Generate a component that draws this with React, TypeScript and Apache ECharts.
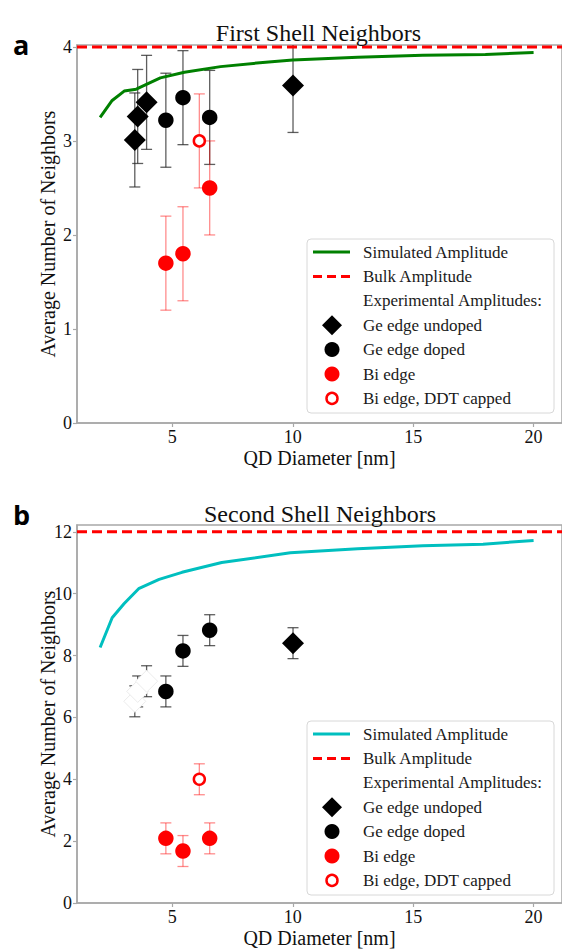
import React, { useEffect, useRef } from "react";
import * as echarts from "echarts";

// ---- data ----
const simX1 = [2.0, 2.5, 3.0, 3.5, 4.5, 5.5, 7.0, 9.0, 10.0, 12.7, 15.4, 18.0, 20.0];
const simY1 = [3.25, 3.43, 3.53, 3.55, 3.67, 3.73, 3.79, 3.84, 3.86, 3.89, 3.91, 3.92, 3.94];
const simX2 = [2.0, 2.5, 3.0, 3.6, 4.45, 5.4, 7.05, 9.9, 12.7, 15.4, 17.9, 20.0];
const simY2 = [8.26, 9.22, 9.68, 10.16, 10.46, 10.69, 11.01, 11.32, 11.45, 11.55, 11.6, 11.72];
const bulk1 = 4;
const bulk2 = 12;

const undopedX = [3.44, 3.56, 3.93, 10.01];
const undopedY1 = [3.01, 3.26, 3.41, 3.59];
const undopedErr1 = [0.5, 0.5, 0.5, 0.5];
const undopedY2 = [6.52, 6.84, 7.17, 8.4];
const undopedErr2 = [0.5, 0.5, 0.5, 0.5];

const dopedX = [4.73, 5.44, 6.55];
const dopedY1 = [3.22, 3.46, 3.25];
const dopedErr1 = [0.5, 0.5, 0.5];
const dopedY2 = [6.84, 8.15, 8.82];
const dopedErr2 = [0.5, 0.5, 0.5];

const biX = [4.73, 5.44, 6.55];
const biY1 = [1.7, 1.8, 2.5];
const biErr1 = [0.5, 0.5, 0.5];
const biY2 = [2.09, 1.68, 2.09];
const biErr2 = [0.5, 0.5, 0.5];

const ddtX = [6.12];
const ddtY1 = [3.0];
const ddtErr1 = [0.5];
const ddtY2 = [4.0];
const ddtErr2 = [0.5];

const xTicks = [5, 10, 15, 20];
const yTicks1 = [0, 1, 2, 3, 4];
const yTicks2 = [0, 2, 4, 6, 8, 10, 12];

const legendLabels = [
  "Simulated Amplitude",
  "Bulk Amplitude",
  "Experimental Amplitudes:",
  "Ge edge undoped",
  "Ge edge doped",
  "Bi edge",
  "Bi edge, DDT capped",
];

const titles = ["First Shell Neighbors", "Second Shell Neighbors"];
const panelLetters = ["a", "b"];

// ---- styles ----
const SERIF = "Liberation Serif";
const SANS = "Open Sans";
const AXIS_GRAY = "#a8a8a8";
const GREEN = "#008000";
const CYAN = "#00bfbf";
const RED = "#ff0000";
const xMin = 1.04;
const gridW = 490;
const xMax = xMin + gridW / 24.33;

function zip(xs: number[], ys: number[]) {
  return xs.map((x, i) => [x, ys[i]]);
}
function errData(xs: number[], ys: number[], es: number[]) {
  return xs.map((x, i) => [x, ys[i], ys[i] - es[i], ys[i] + es[i]]);
}

function errSeries(idx: number, data: number[][], color: string) {
  return {
    type: "custom",
    xAxisIndex: idx,
    yAxisIndex: idx,
    z: 2,
    silent: true,
    data,
    renderItem: (params: any, api: any) => {
      const x = api.value(0);
      const lo = api.value(2);
      const hi = api.value(3);
      const cs = params.coordSys;
      const pLo = api.coord([x, lo]);
      const pHi = api.coord([x, hi]);
      const topY = Math.max(pHi[1], cs.y);
      const botY = Math.min(pLo[1], cs.y + cs.height);
      const cx = pLo[0];
      const hw = 5.5;
      const style = { stroke: color, lineWidth: 1.3 };
      const children: any[] = [
        { type: "line", shape: { x1: cx, y1: topY, x2: cx, y2: botY }, style },
      ];
      if (pHi[1] >= cs.y) {
        children.push({ type: "line", shape: { x1: cx - hw, y1: pHi[1], x2: cx + hw, y2: pHi[1] }, style });
      }
      if (pLo[1] <= cs.y + cs.height) {
        children.push({ type: "line", shape: { x1: cx - hw, y1: pLo[1], x2: cx + hw, y2: pLo[1] }, style });
      }
      return { type: "group", children };
    },
  };
}

function legendGraphic(top: number, simColor: string) {
  const left = 307;
  const els: any[] = [
    {
      type: "rect",
      shape: { x: left, y: top, width: 247, height: 174, r: 4 },
      style: { fill: "rgba(255,255,255,0.85)", stroke: "#d8d8d8", lineWidth: 1 },
      z: 50,
    },
  ];
  const mx = 332;
  legendLabels.forEach((lab, i) => {
    const yc = top + 13 + i * 24.4;
    els.push({
      type: "text",
      x: 363,
      y: yc,
      z: 52,
      style: { text: lab, fontSize: 17, fontFamily: SERIF, fill: "#1a1a1a", align: "left", verticalAlign: "middle" },
    });
    if (i === 0) {
      els.push({ type: "line", z: 52, shape: { x1: 313, y1: yc, x2: 350, y2: yc }, style: { stroke: simColor, lineWidth: 3 } });
    } else if (i === 1) {
      els.push({ type: "line", z: 52, shape: { x1: 313, y1: yc, x2: 350, y2: yc }, style: { stroke: RED, lineWidth: 3, lineDash: [9, 5] } });
    } else if (i === 3) {
      els.push({ type: "polygon", z: 52, shape: { points: [[mx, yc - 10], [mx + 10, yc], [mx, yc + 10], [mx - 10, yc]] }, style: { fill: "#000" } });
    } else if (i === 4) {
      els.push({ type: "circle", z: 52, shape: { cx: mx, cy: yc, r: 7.5 }, style: { fill: "#000" } });
    } else if (i === 5) {
      els.push({ type: "circle", z: 52, shape: { cx: mx, cy: yc, r: 7.5 }, style: { fill: RED } });
    } else if (i === 6) {
      els.push({ type: "circle", z: 52, shape: { cx: mx, cy: yc, r: 5.5 }, style: { fill: "#fff", stroke: RED, lineWidth: 2.5 } });
    }
  });
  return els;
}

function xAxisCfg(idx: number) {
  return {
    gridIndex: idx,
    type: "value",
    min: xMin,
    max: xMax,
    axisLine: { show: true, lineStyle: { color: AXIS_GRAY, width: 1.5 } },
    axisTick: { show: true, customValues: xTicks, length: 4, lineStyle: { color: AXIS_GRAY, width: 1.2 } },
    axisLabel: { customValues: xTicks, fontSize: 18, fontFamily: SERIF, color: "#111", margin: 5 },
    splitLine: { show: false },
    name: "QD Diameter [nm]",
    nameLocation: "middle",
    nameGap: 25,
    nameMoveOverlap: false,
    nameTextStyle: { fontSize: 20, fontFamily: SERIF, color: "#111" },
  };
}

function yAxisCfg(idx: number, max: number, ticks: number[]) {
  return {
    gridIndex: idx,
    type: "value",
    min: 0,
    max,
    axisLine: { show: true, lineStyle: { color: AXIS_GRAY, width: 1.5 } },
    axisTick: { show: true, customValues: ticks, length: 4, lineStyle: { color: AXIS_GRAY, width: 1.2 } },
    axisLabel: { customValues: ticks, fontSize: 18, fontFamily: SERIF, color: "#111", margin: 5 },
    splitLine: { show: false },
    name: "Average Number of Neighbors",
    nameLocation: "middle",
    nameRotate: 90,
    nameGap: 19,
    nameMoveOverlap: false,
    nameTextStyle: { fontSize: 20, fontFamily: SERIF, color: "#111" },
  };
}

function panelSeries(
  idx: number,
  simX: number[],
  simY: number[],
  simColor: string,
  bulk: number,
  undY: number[],
  undE: number[],
  dopY: number[],
  dopE: number[],
  bY: number[],
  bE: number[],
  dY: number[],
  dE: number[],
  faintUndoped: number[]
) {
  const undData = undopedX.map((x, i) =>
    faintUndoped.includes(i)
      ? { value: [x, undY[i]], itemStyle: { color: "#ffffff", borderColor: "#ececec", borderWidth: 1 } }
      : { value: [x, undY[i]] }
  );
  return [
    errSeries(idx, errData(undopedX, undY, undE), "rgba(40,40,40,0.75)"),
    errSeries(idx, errData(dopedX, dopY, dopE), "rgba(40,40,40,0.75)"),
    errSeries(idx, errData(biX, bY, bE), "rgba(255,0,0,0.45)"),
    errSeries(idx, errData(ddtX, dY, dE), "rgba(255,0,0,0.45)"),
    {
      type: "line",
      name: "Simulated Amplitude",
      xAxisIndex: idx,
      yAxisIndex: idx,
      data: zip(simX, simY),
      showSymbol: false,
      symbol: "none",
      lineStyle: { color: simColor, width: 3 },
      z: 3,
    },
    {
      type: "line",
      name: "Bulk Amplitude",
      xAxisIndex: idx,
      yAxisIndex: idx,
      data: [[xMin, bulk], [xMax, bulk]],
      symbol: "none",
      clip: false,
      lineStyle: { color: RED, width: 3, type: [10, 5] },
      z: 4,
    },
    {
      type: "scatter",
      name: "Ge edge undoped",
      xAxisIndex: idx,
      yAxisIndex: idx,
      symbol: "diamond",
      symbolSize: 22,
      itemStyle: { color: "#000", opacity: 1 },
      data: undData,
      z: 5,
    },
    {
      type: "scatter",
      name: "Ge edge doped",
      xAxisIndex: idx,
      yAxisIndex: idx,
      symbol: "circle",
      symbolSize: 15.5,
      itemStyle: { color: "#000", opacity: 1 },
      data: zip(dopedX, dopY),
      z: 5,
    },
    {
      type: "scatter",
      name: "Bi edge",
      xAxisIndex: idx,
      yAxisIndex: idx,
      symbol: "circle",
      symbolSize: 15.5,
      itemStyle: { color: RED, opacity: 1 },
      data: zip(biX, bY),
      z: 5,
    },
    {
      type: "scatter",
      name: "Bi edge, DDT capped",
      xAxisIndex: idx,
      yAxisIndex: idx,
      symbol: "circle",
      symbolSize: 11,
      itemStyle: { color: "#fff", borderColor: RED, borderWidth: 2.5, opacity: 1 },
      data: zip(ddtX, dY),
      z: 5,
    },
  ];
}

export default function App() {
  const ref = useRef<HTMLDivElement>(null);
  useEffect(() => {
    document.body.style.margin = "0";
    if (!ref.current) return;
    const chart = echarts.init(ref.current, undefined, { renderer: "svg" });
    const option: any = {
      animation: false,
      backgroundColor: "#ffffff",
      grid: [
        { left: 77, top: 45, width: gridW, height: 378, show: true, borderColor: AXIS_GRAY, borderWidth: 1.5, backgroundColor: "transparent" },
        { left: 77, top: 525, width: gridW, height: 380, show: true, borderColor: AXIS_GRAY, borderWidth: 1.5, backgroundColor: "transparent" },
      ],
      xAxis: [xAxisCfg(0), xAxisCfg(1)],
      yAxis: [yAxisCfg(0, 4.02, yTicks1), yAxisCfg(1, 12.22, yTicks2)],
      series: [
        ...panelSeries(0, simX1, simY1, GREEN, bulk1, undopedY1, undopedErr1, dopedY1, dopedErr1, biY1, biErr1, ddtY1, ddtErr1, []),
        ...panelSeries(1, simX2, simY2, CYAN, bulk2, undopedY2, undopedErr2, dopedY2, dopedErr2, biY2, biErr2, ddtY2, ddtErr2, [0, 1, 2]),
      ],
      graphic: [
        { type: "text", x: 318.5, y: 33, z: 60, style: { text: titles[0], fontSize: 24, fontFamily: SERIF, fill: "#111", align: "center", verticalAlign: "middle" } },
        { type: "text", x: 320, y: 514, z: 60, style: { text: titles[1], fontSize: 24, fontFamily: SERIF, fill: "#111", align: "center", verticalAlign: "middle" } },
        { type: "text", x: 13, y: 31, z: 60, style: { text: panelLetters[0], fontSize: 27, fontWeight: "bold", fontFamily: SANS, fill: "#000", align: "left", verticalAlign: "alphabetic" } },
        { type: "text", x: 13, y: 501, z: 60, style: { text: panelLetters[1], fontSize: 27, fontWeight: "bold", fontFamily: SANS, fill: "#000", align: "left", verticalAlign: "alphabetic" } },
        ...legendGraphic(239, GREEN),
        ...legendGraphic(721, CYAN),
      ],
    };
    chart.setOption(option);
    return () => chart.dispose();
  }, []);
  return <div ref={ref} style={{ width: 562, height: 949 }} />;
}
